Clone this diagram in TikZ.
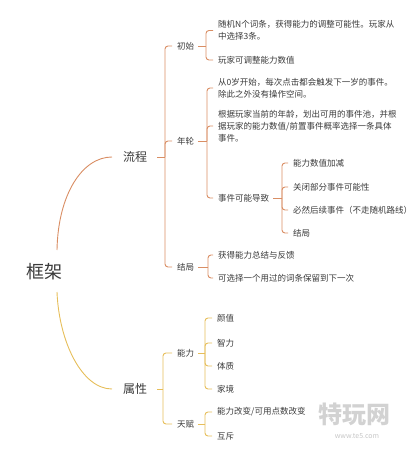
\documentclass[tikz,border=0pt]{standalone}
\usepackage{fontspec}
\setmainfont{Noto Sans CJK SC}
\definecolor{orangeln}{HTML}{D98E64}
\definecolor{goldln}{HTML}{E6BE5A}
\definecolor{txt}{HTML}{3A3A3A}
\begin{document}
\begin{tikzpicture}[x=1pt,y=-1pt,
  every node/.style={text=txt, inner xsep=2pt, inner ysep=1pt, anchor=west,
    font=\fontsize{8.5}{12}\selectfont, align=left},
  up/.style={draw=orangeln, line width=0.9pt},
  lo/.style={draw=goldln, line width=0.9pt},
  br/.style={rounded corners=3pt}]
\useasboundingbox (0,0) rectangle (412,450);

% root and main branches
\node[anchor=center, font=\fontsize{18}{20}\selectfont] (root) at (45,272) {框架};
\node[font=\fontsize{12}{14}\selectfont] (liu) at (121,157) {流程};
\node[font=\fontsize{12}{14}\selectfont] (shu) at (121,389) {属性};
\draw[up] ([shift={(12,-22)}]root.center) .. controls +(1,-55) and +(-30,0) .. ([xshift=-9pt]liu.west);
\draw[lo] ([shift={(12,20)}]root.center) .. controls +(2,50) and +(-30,0) .. ([xshift=-9pt]shu.west);

% ---------- 流程 ----------
\node (init) at (175,46) {初始};
\node (nian) at (175,141) {年轮};
\node (jie)  at (175,267) {结局};
\coordinate (jL) at (165,157);
\draw[up] ([xshift=8pt]liu.east) -- (jL);
\foreach \c in {init,nian,jie} \draw[up,br] (jL) |- ([xshift=-3pt]\c.west);

% 初始
\node (i1) at (216,30.5) {随机N个词条，获得能力的调整可能性。玩家从\\中选择3条。};
\node (i2) at (216,60) {玩家可调整能力数值};
\coordinate (jI) at (206,46);
\draw[up] ([xshift=2pt]init.east) -- (jI);
\foreach \c in {i1,i2} \draw[up,br] (jI) |- ([xshift=-3pt]\c.west);

% 年轮
\node (n1) at (216,88) {从0岁开始，每次点击都会触发下一岁的事件。\\除此之外没有操作空间。};
\node (n2) at (216,126) {根据玩家当前的年龄，划出可用的事件池，并根\\据玩家的能力数值/前置事件概率选择一条具体\\事件。};
\node (n3) at (216,198) {事件可能导致};
\coordinate (jN) at (207,141);
\draw[up] ([xshift=2pt]nian.east) -- (jN);
\foreach \c in {n1,n2,n3} \draw[up,br] (jN) |- ([xshift=-3pt]\c.west);

% 事件可能导致
\node (e1) at (291,163) {能力数值加减};
\node (e2) at (291,187) {关闭部分事件可能性};
\node (e3) at (291,210) {必然后续事件（不走随机路线）};
\node (e4) at (291,233) {结局};
\coordinate (jE) at (282,198);
\draw[up] ([xshift=2pt]n3.east) -- (jE);
\foreach \c in {e1,e2,e3,e4} \draw[up,br] (jE) |- ([xshift=-3pt]\c.west);

% 结局
\node (j1) at (216,255) {获得能力总结与反馈};
\node (j2) at (216,278) {可选择一个用过的词条保留到下一次};
\coordinate (jJ) at (208,267);
\draw[up] ([xshift=2pt]jie.east) -- (jJ);
\foreach \c in {j1,j2} \draw[up,br] (jJ) |- ([xshift=-3pt]\c.west);

% ---------- 属性 ----------
\node (neng) at (175,353) {能力};
\node (tian) at (175,424) {天赋};
\coordinate (jS) at (163,389);
\draw[lo] ([xshift=8pt]shu.east) -- (jS);
\foreach \c in {neng,tian} \draw[lo,br] (jS) |- ([xshift=-3pt]\c.west);

\node (a1) at (215,318) {颜值};
\node (a2) at (215,343) {智力};
\node (a3) at (215,366) {体质};
\node (a4) at (215,389) {家境};
\coordinate (jA) at (205,353);
\draw[lo] ([xshift=2pt]neng.east) -- (jA);
\foreach \c in {a1,a2,a3,a4} \draw[lo,br] (jA) |- ([xshift=-3pt]\c.west);

\node (t1) at (215,412) {能力改变/可用点数改变};
\node (t2) at (215,436) {互斥};
\coordinate (jT) at (205,424);
\draw[lo] ([xshift=2pt]tian.east) -- (jT);
\foreach \c in {t1,t2} \draw[lo,br] (jT) |- ([xshift=-3pt]\c.west);

% watermark
\node[anchor=center, text=gray!35, font=\fontsize{24}{26}\selectfont\bfseries] (wm1) at (354,414) {特玩网};
\node[anchor=center, text=gray!45, font=\fontsize{7}{8}\selectfont] (wm2) at (357,436) {www.te5.com};
\end{tikzpicture}
\end{document}
